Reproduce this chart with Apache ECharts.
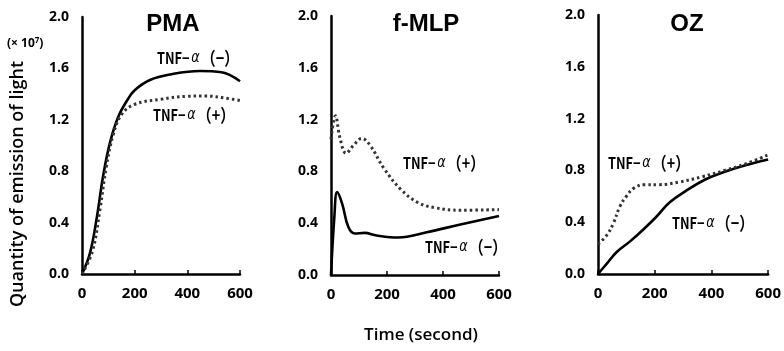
<!DOCTYPE html>
<html><head><meta charset="utf-8">
<script src="https://cdn.jsdelivr.net/npm/echarts@6/dist/echarts.min.js"></script>
<style>html,body{margin:0;padding:0;background:#fff}#c{width:784px;height:351px}</style>
</head><body><div id="c"></div>
<script>
// ---- data (time in seconds, quantity of emission x10^7) ----
const xTicks = [0, 200, 400, 600];
const yTicks = [0.0, 0.4, 0.8, 1.2, 1.6, 2.0];
const panelTitles = ['PMA', 'f-MLP', 'OZ'];

const pmaMinus = [[0,0],[30,0.16],[57,0.45],[80,0.76],[106,1.02],[137,1.22],[171,1.35],[200,1.43],[258,1.51],[340,1.555],[448,1.58],[530,1.57],[600,1.5]];
const pmaPlus = [[0,0],[40,0.18],[68,0.5],[92,0.83],[118,1.08],[150,1.24],[200,1.32],[300,1.36],[400,1.383],[470,1.385],[540,1.37],[600,1.35]];

const fmlpMinus = [[0,0],[12,0.45],[22,0.64],[40,0.55],[62,0.37],[85,0.32],[120,0.325],[163,0.305],[240,0.29],[342,0.33],[462,0.39],[600,0.455]];
const fmlpPlus = [[0,1.05],[16,1.23],[32,1.06],[54,0.94],[80,1.0],[110,1.055],[140,1.0],[190,0.82],[250,0.66],[310,0.56],[370,0.52],[462,0.5],[600,0.505]];

const ozMinus = [[0,0],[31,0.08],[66,0.17],[112,0.25],[158,0.34],[205,0.44],[251,0.55],[309,0.64],[378,0.73],[447,0.79],[520,0.84],[600,0.885]];
const ozPlus = [[0,0.23],[31,0.3],[54,0.39],[77,0.52],[100,0.6],[128,0.665],[165,0.69],[216,0.69],[286,0.71],[366,0.75],[447,0.8],[520,0.85],[600,0.92]];

const minusSeries = [pmaMinus, fmlpMinus, ozMinus];
const plusSeries = [pmaPlus, fmlpPlus, ozPlus];
const labelMinus = 'TNF−α （−）';
const labelPlus = 'TNF−α （+）';

// ---- layout ----
const grids = [
  {left: 82, top: 17, width: 158, height: 257},
  {left: 331, top: 16, width: 168, height: 259},
  {left: 598, top: 15, width: 173, height: 259}
];
const titlePos = [[173, 24], [426, 24], [687, 24]];
const minusLabelPos = [[157, 58], [425, 247], [672, 223]];
const plusLabelPos = [[153, 115], [403, 163], [608, 163]];

const chart = echarts.init(document.getElementById('c'), null, {renderer: 'canvas'});
const axisLine = {show: true, lineStyle: {color: '#000', width: 2.5}};
const xAxes = [], yAxes = [], series = [];
grids.forEach((g, i) => {
  xAxes.push({
    type: 'value', gridIndex: i, min: xTicks[0], max: xTicks[xTicks.length-1], interval: 200,
    axisLine: axisLine, axisTick: {show: true, inside: true, length: 4, lineStyle: {color: '#000', width: 1.5}},
    splitLine: {show: false},
    axisLabel: {color: '#000', fontFamily: 'Open Sans', fontWeight: 'bold', fontSize: 15, margin: 12}
  });
  yAxes.push({
    type: 'value', gridIndex: i, min: yTicks[0], max: yTicks[yTicks.length-1], interval: 0.4,
    axisLine: axisLine, axisTick: {show: false}, splitLine: {show: false},
    axisLabel: {color: '#000', fontFamily: 'Open Sans', fontWeight: 'bold', fontSize: 14, margin: 13,
      formatter: v => v.toFixed(1)}
  });
  series.push({
    type: 'line', xAxisIndex: i, yAxisIndex: i, data: minusSeries[i], showSymbol: false,
    smooth: 0.4, lineStyle: {color: '#000', width: 2.6}
  });
  series.push({
    type: 'line', xAxisIndex: i, yAxisIndex: i, data: plusSeries[i], showSymbol: false,
    smooth: 0.4, lineStyle: {color: '#333', width: 3, type: [2.5, 3]}
  });
});

const rich = {
  a: {fontFamily: 'Noto Sans CJK JP', fontWeight: 'bold', fontSize: 16, color: '#000'},
  b: {fontFamily: 'DejaVu Sans', fontStyle: 'italic', fontSize: 16, color: '#000', padding: [0, 2, 0, 2]},
  c: {fontFamily: 'Noto Sans CJK JP', fontWeight: 'bold', fontSize: 18, color: '#000'}
};
function richLabel(t) {
  const m = t.match(/^(TNF−)(α)\s*(.*)$/);
  return '{a|' + m[1] + '}{b|' + m[2] + '}{c|' + m[3] + '}';
}
const graphic = [];
for (let i = 0; i < 3; i++) {
  graphic.push({type: 'text', x: titlePos[i][0], y: titlePos[i][1],
    style: {text: panelTitles[i], fontFamily: 'Liberation Sans', fontWeight: 'bold', fontSize: 24,
      fill: '#000', align: 'center', verticalAlign: 'middle'}});
  graphic.push({type: 'text', x: minusLabelPos[i][0], y: minusLabelPos[i][1], scaleX: 0.8,
    style: {text: richLabel(labelMinus), rich: rich, fill: '#000', verticalAlign: 'middle'}});
  graphic.push({type: 'text', x: plusLabelPos[i][0], y: plusLabelPos[i][1], scaleX: 0.8,
    style: {text: richLabel(labelPlus), rich: rich, fill: '#000', verticalAlign: 'middle'}});
}
graphic.push({type: 'text', x: 7, y: 44,
  style: {text: '{a|(× 10}{s|7}{a|)}', fill: '#000', verticalAlign: 'middle',
    rich: {a: {fontFamily: 'Open Sans', fontWeight: 'bold', fontSize: 12, color: '#000'},
           s: {fontFamily: 'Open Sans', fontWeight: 'bold', fontSize: 8, color: '#000', verticalAlign: 'top', padding: [0,0,6,0]}}}});
graphic.push({type: 'text', x: 18, y: 184, rotation: Math.PI / 2,
  style: {text: 'Quantity of emission of light', fontFamily: 'Open Sans', fontSize: 18, fontWeight: 600, fill: '#000',
    align: 'center', verticalAlign: 'middle'}});
graphic.push({type: 'text', x: 421, y: 335,
  style: {text: 'Time (second)', fontFamily: 'Open Sans', fontSize: 17, fontWeight: 600, fill: '#000',
    align: 'center', verticalAlign: 'middle'}});

chart.setOption({
  animation: false,
  backgroundColor: '#fff',
  grid: grids,
  xAxis: xAxes, yAxis: yAxes, series: series, graphic: graphic
});
</script></body></html>
